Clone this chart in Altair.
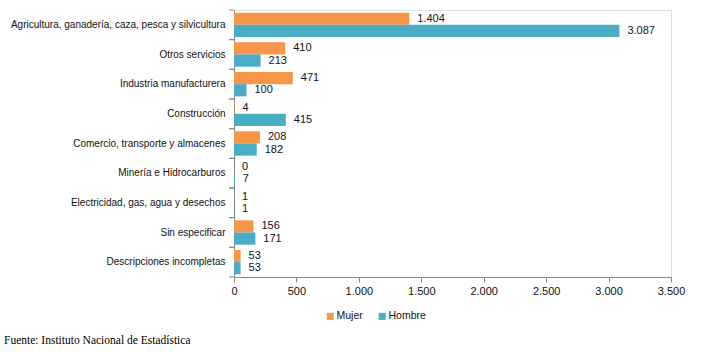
import altair as alt
import pandas as pd

categories = [
    "Agricultura, ganadería, caza, pesca y silvicultura",
    "Otros servicios",
    "Industria manufacturera",
    "Construcción",
    "Comercio, transporte y almacenes",
    "Minería e Hidrocarburos",
    "Electricidad, gas, agua y desechos",
    "Sin especificar",
    "Descripciones incompletas",
]
mujer = [1404, 410, 471, 4, 208, 0, 1, 156, 53]
hombre = [3087, 213, 100, 415, 182, 7, 1, 171, 53]
series = ["Mujer", "Hombre"]
colors = ["#F79646", "#4BACC6"]
x_ticks = [0, 500, 1000, 1500, 2000, 2500, 3000, 3500]
source = "Fuente: Instituto Nacional de Estadística"


def fmt(v):
    return f"{v:,}".replace(",", ".")


rows = []
for c, m, h in zip(categories, mujer, hombre):
    rows.append({"cat": c, "sexo": "Mujer", "valor": m, "label": fmt(m)})
    rows.append({"cat": c, "sexo": "Hombre", "valor": h, "label": fmt(h)})
df = pd.DataFrame(rows)
cat_df = pd.DataFrame({"cat": categories})

FONT = "Liberation Sans, Arial, sans-serif"
AX = "#868686"
TXT = "#111111"

y_enc = alt.Y(
    "cat:N",
    sort=categories,
    scale=alt.Scale(paddingInner=0, paddingOuter=0),
    axis=alt.Axis(
        title=None,
        ticks=False,
        labelPadding=9,
        labelFont=FONT,
        labelFontSize=10,
        labelColor=TXT,
        labelLimit=300,
        domainColor=AX,
    ),
)
x_enc = alt.X(
    "valor:Q",
    scale=alt.Scale(domain=[0, 3500], nice=False),
    axis=alt.Axis(
        title=None,
        values=x_ticks,
        grid=False,
        labelExpr="replace(format(datum.value, ','), ',', '.')",
        labelFont=FONT,
        labelFontSize=11,
        labelColor=TXT,
        labelFlush=False,
        labelOverlap=False,
        domainColor=AX,
        tickColor=AX,
        tickSize=5,
        labelPadding=3,
    ),
)
yoff = alt.YOffset("sexo:N", sort=series, scale=alt.Scale(paddingOuter=0.22, paddingInner=0))

base = alt.Chart(df)
bars = base.mark_bar().encode(
    y=y_enc,
    x=x_enc,
    yOffset=yoff,
    color=alt.Color(
        "sexo:N",
        sort=series,
        scale=alt.Scale(domain=series, range=colors),
        legend=alt.Legend(
            title=None,
            orient="none",
            direction="horizontal",
            legendX=91,
            legendY=301,
            symbolType="square",
            symbolSize=50,
            symbolStrokeWidth=0,
            labelFont=FONT,
            labelFontSize=10.5,
            labelColor=TXT,
            columnPadding=14,
            labelOffset=1,
        ),
    ),
)
labels = base.mark_text(
    align="left", baseline="middle", dx=8, font=FONT, fontSize=11, color="#111122"
).encode(
    y=alt.Y("cat:N", sort=categories),
    x=alt.X("valor:Q"),
    yOffset=yoff,
    text="label:N",
)
tick_top = alt.Chart(cat_df).mark_rule(color=AX).encode(
    y=alt.Y("cat:N", sort=categories, bandPosition=0),
    x=alt.value(-5),
    x2=alt.value(0),
)
tick_bot = alt.Chart(cat_df).mark_rule(color=AX).encode(
    y=alt.Y("cat:N", sort=categories, bandPosition=1),
    x=alt.value(-5),
    x2=alt.value(0),
)
src = alt.Chart(pd.DataFrame({"t": [source]})).mark_text(
    align="left", baseline="middle", font="Liberation Serif, Times New Roman, serif", fontSize=11.5, color="#000000"
).encode(text="t:N", x=alt.value(-230), y=alt.value(331))

chart = (
    alt.layer(bars, labels, tick_top, tick_bot, src)
    .properties(
        width=437,
        height=267,
        autosize=alt.AutoSizeParams(type="none"),
        padding={"left": 234, "top": 10, "right": 33, "bottom": 75},
    )
    .configure_view(stroke=None)
    .configure(background="white")
)
chart.save("out.html", embed_options={"renderer": "svg", "actions": False})
